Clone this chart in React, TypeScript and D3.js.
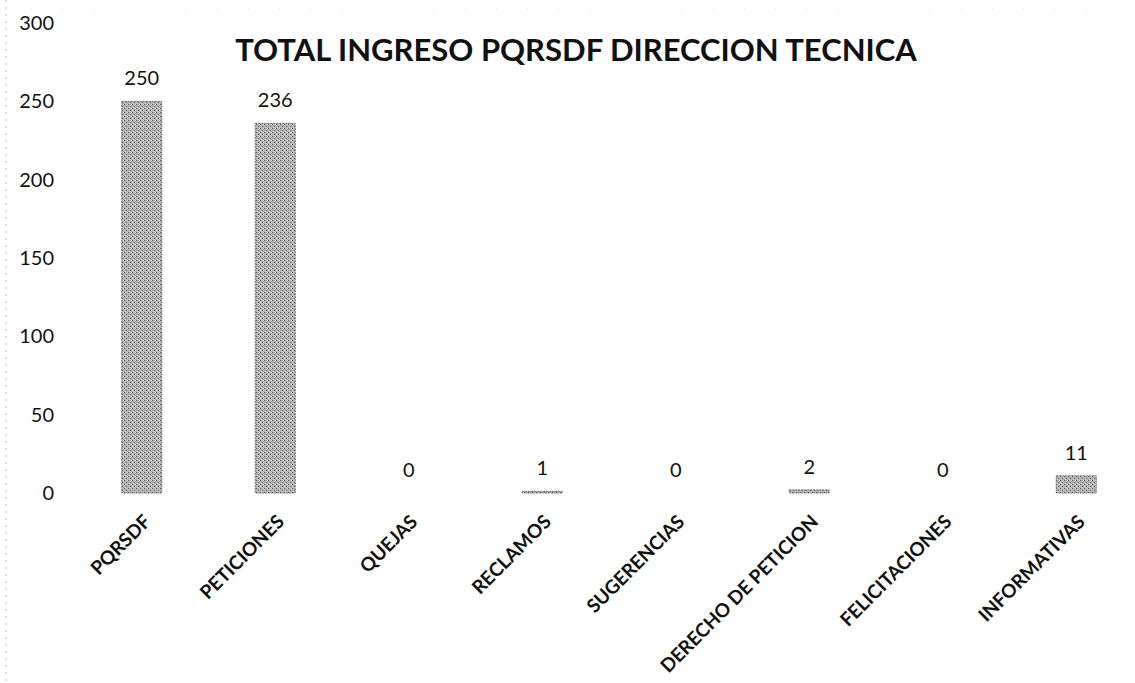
import React from "react";
import * as d3 from "d3";

const title = "TOTAL INGRESO PQRSDF  DIRECCION TECNICA";
const categories = [
  "PQRSDF",
  "PETICIONES",
  "QUEJAS",
  "RECLAMOS",
  "SUGERENCIAS",
  "DERECHO DE PETICION",
  "FELICITACIONES",
  "INFORMATIVAS",
];
const values = [250, 236, 0, 1, 0, 2, 0, 11];
const yTicks = [0, 50, 100, 150, 200, 250, 300];

const W = 1135;
const H = 683;
const FONT = "Lato, 'Open Sans', 'DejaVu Sans', sans-serif";

export default function App() {
  const x = d3
    .scaleBand<string>()
    .domain(categories)
    .range([75, 1143])
    .paddingInner(0.7)
    .paddingOuter(0.35);
  const y = d3.scaleLinear().domain([0, 300]).range([493, 23]);

  return (
    <svg
      width={W}
      height={H}
      viewBox={`0 0 ${W} ${H}`}
      style={{ position: "absolute", left: 0, top: 0, background: "#fff" }}
      fontFamily={FONT}
    >
      <defs>
        <pattern id="grain" width="4" height="4" patternUnits="userSpaceOnUse">
          <rect width="4" height="4" fill="#b3b3b3" />
          <rect x="0" y="0" width="1" height="1" fill="#5a5a5a" />
          <rect x="2" y="2" width="1" height="1" fill="#6a6a6a" />
          <rect x="3" y="0" width="1" height="1" fill="#d8d8d8" />
          <rect x="1" y="3" width="1" height="1" fill="#d0d0d0" />
        </pattern>
      </defs>
      <rect width={W} height={H} fill="#fff" />
      <line x1={6} x2={6} y1={0} y2={H} stroke="#bbb" strokeWidth={1} strokeDasharray="2 5" />
      <line x1={0} x2={W} y1={9} y2={9} stroke="#ddd" strokeWidth={1} strokeDasharray="1 30" />

      <text
        x={576}
        y={61}
        textAnchor="middle"
        fontSize={31}
        fontWeight={700}
        fill="#111"
      >
        {title}
      </text>

      {yTicks.map((t) => (
        <text
          key={t}
          x={54}
          y={y(t)}
          dy="0.35em"
          textAnchor="end"
          fontSize={20}
          fill="#111"
        >
          {t}
        </text>
      ))}

      {categories.map((c, i) => {
        const v = values[i];
        const bx = x(c)!;
        const cx = bx + x.bandwidth() / 2;
        return (
          <g key={c}>
            {v > 0 && (
              <rect
                x={bx}
                y={y(v)}
                width={x.bandwidth()}
                height={y(0) - y(v)}
                fill="url(#grain)"
                stroke="#555"
                strokeWidth={0.8}
                strokeDasharray="2 1"
              />
            )}
            <text
              x={cx}
              y={y(v) - 16}
              textAnchor="middle"
              fontSize={20}
              fill="#111"
            >
              {v}
            </text>
            <text
              transform={`translate(${cx + 10},${y(0) + 30}) rotate(-45)`}
              textAnchor="end"
              fontSize={19}
              fontWeight={700}
              fill="#111"
            >
              {c}
            </text>
          </g>
        );
      })}
    </svg>
  );
}
